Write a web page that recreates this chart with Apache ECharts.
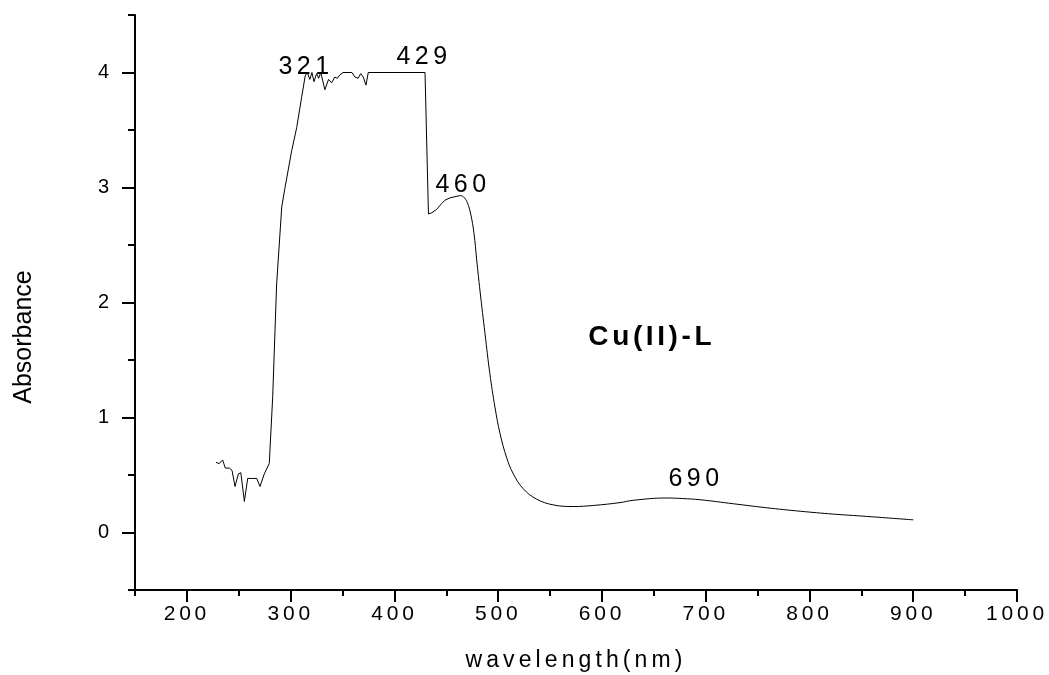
<!DOCTYPE html>
<html>
<head>
<meta charset="utf-8">
<script src="https://cdn.jsdelivr.net/npm/echarts@6/dist/echarts.min.js"></script>
<style>
  html, body { margin: 0; padding: 0; background: #fff; }
  #chart { width: 1049px; height: 675px; }
</style>
</head>
<body>
<div id="chart"></div>
<script>
// wavelength (nm) / absorbance
// noisy part up to the 460 shoulder
const wavelength = [
  228, 231, 234.5, 237, 241, 243.5, 246.4, 249.6, 252, 255.4, 258.6, 262.5, 267.3, 270.5, 274.6, 279.4,
  282.7, 286.5, 291.4, 294.6, 301, 305.8, 310.7, 314, 316, 318.5, 320.5, 322.5, 325, 327, 329,
  333, 336.5, 339.5, 342.5, 345, 347.5, 350.5, 359, 362, 365, 367.5, 370, 372.6, 374.8, 429.5,
  432.8, 436, 440.7, 445.5, 448.8, 453.6, 458.4, 463.2
];
const absorbance = [
  0.61, 0.60, 0.63, 0.56, 0.56, 0.54, 0.40, 0.51, 0.52, 0.27, 0.47, 0.47, 0.47, 0.40, 0.51, 0.60,
  1.18, 2.16, 2.83, 3.00, 3.32, 3.52, 3.79, 3.97, 4.00, 3.94, 4.00, 3.92, 3.99, 3.95, 4.00,
  3.85, 3.94, 3.91, 3.96, 3.95, 3.98, 4.00, 4.00, 3.96, 3.95, 3.99, 3.96, 3.89, 4.00, 4.00,
  2.77, 2.78, 2.81, 2.86, 2.89, 2.91, 2.92, 2.93
];
// smooth band tail from the shoulder on
const tailWavelength = [
  463.2, 466.4, 470.2, 473.5, 476.7, 479.3, 482.5, 487.3, 492, 496.9, 501.8, 508.2, 514.6, 524.2,
  537.1, 553.1, 572.4, 591.7, 617.4, 630, 662, 678, 694.5, 726.6, 758.8, 791, 823, 855, 900
];
const tailAbsorbance = [
  2.93, 2.92, 2.87, 2.77, 2.60, 2.37, 2.10, 1.73, 1.38, 1.09, 0.86, 0.65, 0.51, 0.38,
  0.29, 0.24, 0.226, 0.235, 0.26, 0.28, 0.30, 0.295, 0.285, 0.25, 0.215, 0.185, 0.16, 0.14, 0.11
];

// ticks
const xMajorTicks = [200, 300, 400, 500, 600, 700, 800, 900, 1000];
const xMinorTicks = [150, 250, 350, 450, 550, 650, 750, 850, 950];
const yMajorTicks = [0, 1, 2, 3, 4];
const yMinorTicks = [-0.5, 0.5, 1.5, 2.5, 3.5, 4.5];

// peak annotations: text and where it sits (data units)
const peakNames = ['321', '429', '460', '690'];
const peakX = [314.8, 428.5, 466.1, 690.7];
const peakY = [4.05, 4.13, 3.02, 0.46];
const sampleName = 'Cu(II)-L';
const samplePos = [648, 1.70];

// the original export has wide letter spacing on its text
const proto = CanvasRenderingContext2D.prototype;
['fillText', 'strokeText', 'measureText'].forEach(fn => {
  const orig = proto[fn];
  proto[fn] = function (text, ...rest) {
    const m = /(\d+(?:\.\d+)?)px/.exec(this.font);
    const size = m ? parseFloat(m[1]) : 12;
    const s = String(text);
    const k = /bold/.test(this.font) ? 0.13 : 0.18;
    this.letterSpacing = (s.length > 1 && s !== 'Absorbance') ? (size * k).toFixed(1) + 'px' : '0px';
    return orig.call(this, text, ...rest);
  };
});

const FONT = '"Liberation Sans", Arial, sans-serif';
const black = '#000';

const chart = echarts.init(document.getElementById('chart'), null, { renderer: 'canvas' });

const markData = peakNames.map((n, i) => ({ name: n, coord: [peakX[i], peakY[i]] }));
markData.push({
  name: sampleName,
  coord: samplePos,
  label: { fontSize: 28, fontWeight: 'bold' }
});

const lineStyle = { color: black, width: 1 };

const option = {
  animation: false,
  backgroundColor: '#fff',
  grid: { left: 135, right: 32, top: 15, bottom: 85, outerBoundsMode: 'none' },
  xAxis: [
    {
      type: 'value',
      min: 150,
      max: 1000,
      position: 'bottom',
      name: 'wavelength(nm)',
      nameLocation: 'middle',
      nameGap: 59,
      nameTextStyle: { fontSize: 23, color: black, fontFamily: FONT },
      axisLine: { show: true, onZero: false, lineStyle: { color: black, width: 2 } },
      axisTick: { show: true, customValues: xMajorTicks, length: 12, lineStyle: { color: black, width: 2 } },
      axisLabel: { customValues: xMajorTicks, formatter: v => String(v), fontSize: 21, color: black, fontFamily: FONT, margin: 14 },
      splitLine: { show: false }
    },
    {
      type: 'value',
      min: 150,
      max: 1000,
      position: 'bottom',
      axisLine: { show: false, onZero: false },
      axisTick: { show: true, customValues: xMinorTicks, length: 6, lineStyle: { color: black, width: 2 } },
      axisLabel: { show: false },
      splitLine: { show: false }
    }
  ],
  yAxis: [
    {
      type: 'value',
      min: -0.5,
      max: 4.5,
      position: 'left',
      axisLine: { show: true, onZero: false, lineStyle: { color: black, width: 2 } },
      axisTick: { show: true, customValues: yMajorTicks, length: 13, lineStyle: { color: black, width: 2 } },
      axisLabel: { customValues: yMajorTicks, fontSize: 20, color: black, fontFamily: FONT, margin: 26 },
      splitLine: { show: false }
    },
    {
      type: 'value',
      min: -0.5,
      max: 4.5,
      position: 'left',
      axisLine: { show: false, onZero: false },
      axisTick: { show: true, customValues: yMinorTicks, length: 7, lineStyle: { color: black, width: 2 } },
      axisLabel: { show: false },
      splitLine: { show: false }
    }
  ],
  graphic: [
    {
      type: 'text',
      x: 24,
      y: 337,
      rotation: Math.PI / 2,
      style: {
        text: 'Absorbance',
        font: '25px ' + FONT,
        fill: black,
        textAlign: 'center',
        textVerticalAlign: 'middle'
      }
    }
  ],
  series: [
    {
      type: 'line',
      xAxisIndex: 0,
      yAxisIndex: 0,
      data: wavelength.map((w, i) => [w, absorbance[i]]),
      symbol: 'none',
      lineStyle: lineStyle,
      markPoint: {
        symbol: 'circle',
        symbolSize: 0,
        silent: true,
        label: {
          show: true,
          position: 'inside',
          formatter: p => p.name,
          color: black,
          fontSize: 25,
          fontFamily: FONT
        },
        data: markData
      }
    },
    {
      type: 'line',
      xAxisIndex: 0,
      yAxisIndex: 0,
      data: tailWavelength.map((w, i) => [w, tailAbsorbance[i]]),
      symbol: 'none',
      smooth: 0.4,
      lineStyle: lineStyle
    }
  ]
};

chart.setOption(option);
</script>
</body>
</html>
